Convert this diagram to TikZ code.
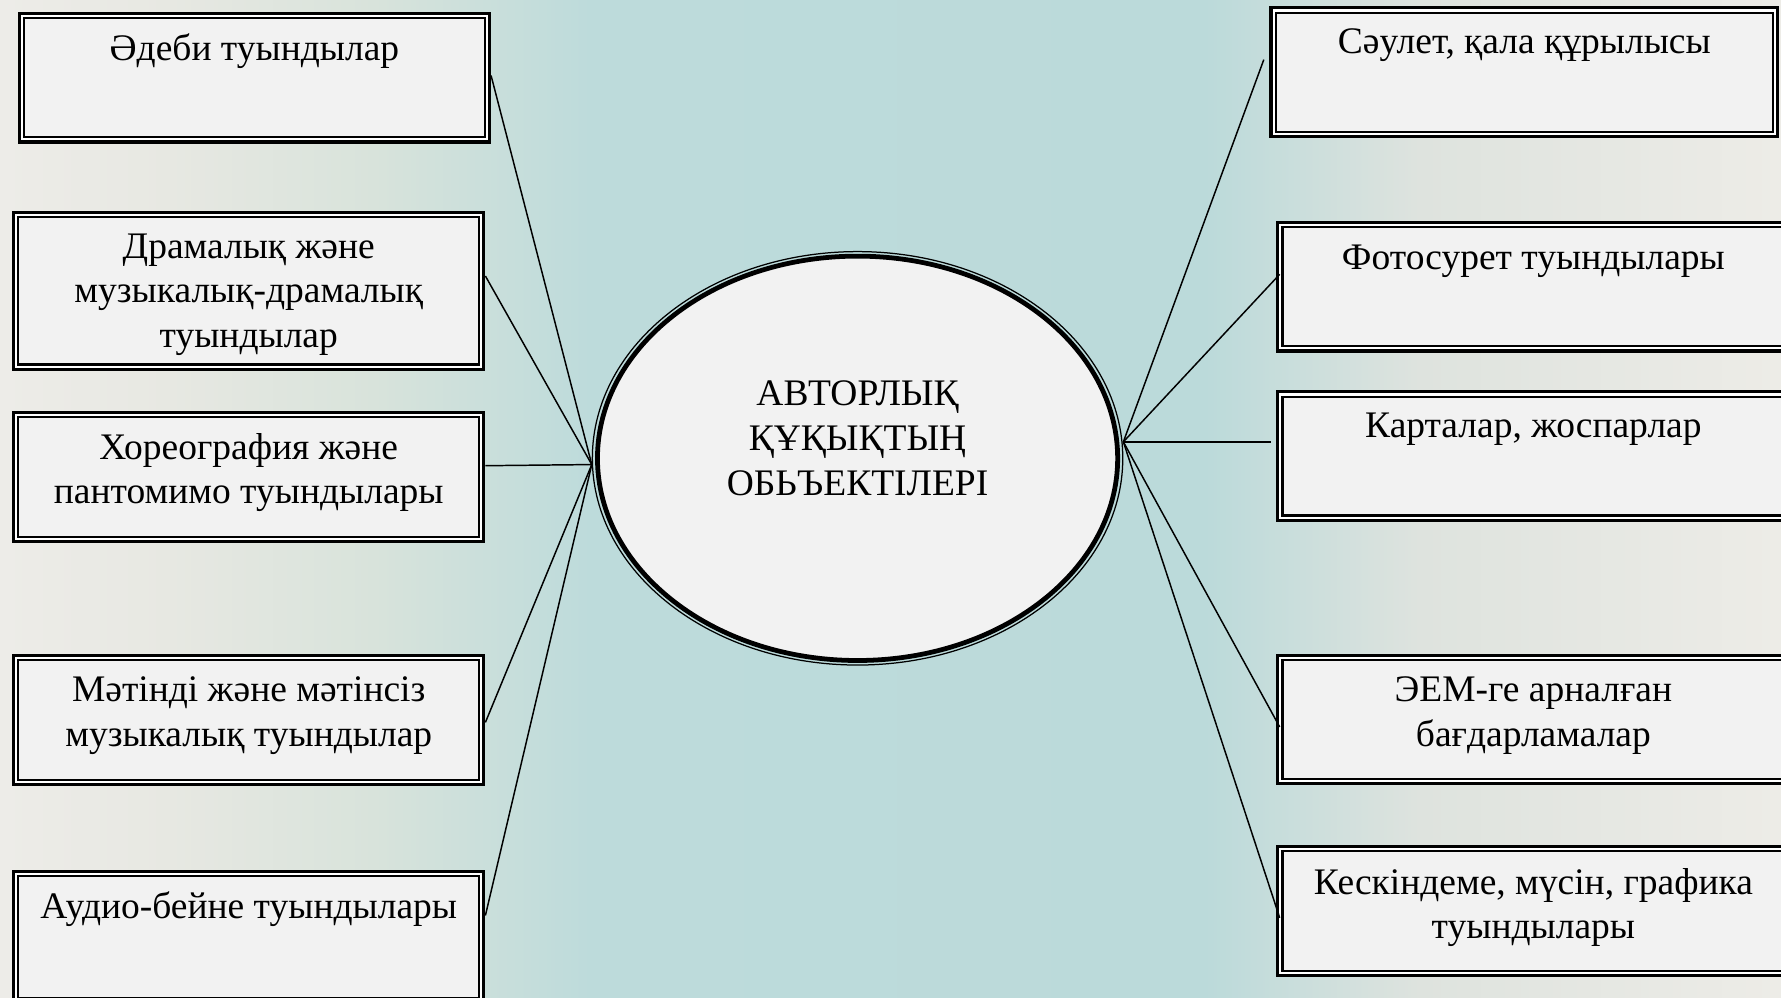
\documentclass[tikz,border=0pt]{standalone}
\usepackage{fontspec}
\setmainfont{Liberation Serif}
\usetikzlibrary{shapes.geometric,calc}
\definecolor{boxfill}{HTML}{F2F2F2}
\definecolor{bgA}{HTML}{EDECE8}
\definecolor{bgB}{HTML}{E7E8E2}
\definecolor{bgC}{HTML}{D8E3DB}
\definecolor{bgD}{HTML}{BDDBDB}
\definecolor{bgE}{HTML}{BBDADA}
\definecolor{bgF}{HTML}{DEE3DE}
\definecolor{bgG}{HTML}{EDECE7}
\pgfdeclarehorizontalshading{bgshade}{100bp}{color(0bp)=(bgA); color(25bp)=(bgA); color(29.78bp)=(bgB); color(35.52bp)=(bgC); color(41.58bp)=(bgD); color(58.8bp)=(bgE); color(64.86bp)=(bgF); color(75bp)=(bgG); color(100bp)=(bgG)}
\begin{document}
\begin{tikzpicture}[x=0.5pt,y=-0.5pt,
  outerbox/.style={draw, line width=1.35pt, fill=white, inner sep=0pt, rectangle},
  innerline/.style={line width=0.95pt, fill=boxfill},
  lbl/.style={align=center, font=\fontsize{16.5pt}{19.75pt}\selectfont, inner sep=0pt},
  conn/.style={line width=0.65pt}]
\useasboundingbox (0,0) rectangle (1568,878);
\clip (0,0) rectangle (1568,878);
% background
\shade[shading=bgshade] (0,0) rectangle (1568,878);

% left boxes
\node[outerbox, minimum width=207pt, minimum height=56.5pt] (b1) at (224,68.5) {};
\node[outerbox, minimum width=207pt, minimum height=69pt] (b2) at (219,256) {};
\node[outerbox, minimum width=207pt, minimum height=57pt] (b3) at (219,420) {};
\node[outerbox, minimum width=207pt, minimum height=57pt] (b4) at (219,634) {};
\node[outerbox, minimum width=207pt, minimum height=58pt] (b5) at (219,825) {};
% right boxes
\node[outerbox, minimum width=223pt, minimum height=56.5pt] (r1) at (1342,63.5) {};
\node[outerbox, minimum width=225pt, minimum height=56.5pt] (r2) at (1350,252.5) {};
\node[outerbox, minimum width=225pt, minimum height=56.5pt] (r3) at (1350,401.5) {};
\node[outerbox, minimum width=225pt, minimum height=56.5pt] (r4) at (1350,633.5) {};
\node[outerbox, minimum width=225pt, minimum height=57pt] (r5) at (1350,802) {};
\foreach \n in {b1,b2,b3,b4,b5,r1,r2,r3,r4,r5}
  \draw[innerline] ([shift={(5.5,5.5)}]\n.north west) rectangle ([shift={(-5.5,-5.5)}]\n.south east);

% central ellipse
\node[ellipse, minimum width=233.5pt, minimum height=182pt, inner sep=0pt] (ell) at (755,403.5) {};
\draw[line width=0.55pt] (ell.center) ellipse [x radius=233.5, y radius=182];
\draw[line width=2.1pt, fill=boxfill] (ell.center) ellipse [x radius=229, y radius=178];
\node[lbl] (et) at (755,386) {АВТОРЛЫҚ\\ҚҰҚЫҚТЫҢ\\ОБЬЪЕКТІЛЕРІ};

% labels
\node[lbl] (t1) at (224,45) {Әдеби туындылар};
\node[lbl] (t2) at (219,259.5) {Драмалық және\\музыкалық-драмалық\\туындылар};
\node[lbl] (t3) at (219,416) {Хореография және\\пантомимо туындылары};
\node[lbl] (t4) at (219,630) {Мәтінді және мәтінсіз\\музыкалық туындылар};
\node[lbl] (t5) at (219,800) {Аудио-бейне туындылары};
\node[lbl] (s1) at (1342,40) {Сәулет, қала құрылысы};
\node[lbl] (s2) at (1350,230) {Фотосурет туындылары};
\node[lbl] (s3) at (1350,378) {Карталар, жоспарлар};
\node[lbl] (s4) at (1350,630) {ЭЕМ-ге арналған\\бағдарламалар};
\node[lbl] (s5) at (1350,799) {Кескіндеме, мүсін, графика\\туындылары};

% connectors
\coordinate (L) at (521,409);
\coordinate (R) at (989,389);
\draw[conn] ([shift={(0,-2)}]b1.east) -- (L);
\draw[conn] ([shift={(0,-13)}]b2.east) -- (L);
\draw[conn] ([shift={(0,-10)}]b3.east) -- (L);
\draw[conn] ([shift={(0,2)}]b4.east) -- (L);
\draw[conn] ([shift={(0,-19)}]b5.east) -- (L);
\draw[conn] ([shift={(-5,-11)}]r1.west) -- (R);
\draw[conn] ([shift={(3,-11)}]r2.west) -- (R);
\draw[conn] ([shift={(-5,-12.5)}]r3.west) -- (R);
\draw[conn] ([shift={(3,6.5)}]r4.west) -- (R);
\draw[conn] ([shift={(3,6)}]r5.west) -- (R);
\end{tikzpicture}
\end{document}
